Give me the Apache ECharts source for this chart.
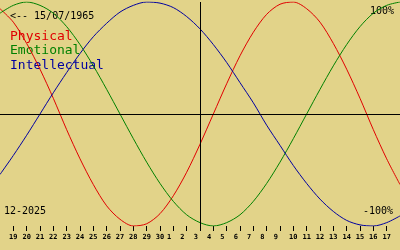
<!DOCTYPE html>
<html>
<head>
<meta charset="utf-8">
<script src="https://cdn.jsdelivr.net/npm/echarts@6/dist/echarts.min.js"></script>
<style>
html,body{margin:0;padding:0;background:#e2d389;}
#c{width:400px;height:250px;}
</style>
</head>
<body>
<div id="c"></div>
<script>
// Days shown: Nov 18 2025 .. Dec 18 2025
var days = ['18','19','20','21','22','23','24','25','26','27','28','29','30',
            '1','2','3','4','5','6','7','8','9','10','11','12','13','14','15','16','17','18'];
var physical = [0.94,0.82,0.63,0.40,0.14,-0.14,-0.40,-0.63,-0.82,-0.94,-1.00,-0.98,-0.89,-0.73,-0.52,-0.27,
                0.00,0.27,0.52,0.73,0.89,0.98,1.00,0.94,0.82,0.63,0.40,0.14,-0.14,-0.40,-0.63];
var emotional = [0.90,0.97,1.00,0.97,0.90,0.78,0.62,0.43,0.22,0.00,-0.22,-0.43,-0.62,-0.78,-0.90,-0.97,
                 -1.00,-0.97,-0.90,-0.78,-0.62,-0.43,-0.22,0.00,0.22,0.43,0.62,0.78,0.90,0.97,1.00];
var intellectual = [-0.54,-0.37,-0.19,0.00,0.19,0.37,0.54,0.69,0.81,0.91,0.97,1.00,0.99,0.95,0.87,0.76,
                    0.62,0.46,0.28,0.10,-0.10,-0.28,-0.46,-0.62,-0.76,-0.87,-0.95,-0.99,-1.00,-0.97,-0.91];
var todayIndex = 15; // Dec 3
var birthText = '<-- 15/07/1965';
var monthText = '12-2025';
var topLabel = '100%';
var bottomLabel = '-100%';
var seriesNames = ['Physical','Emotional','Intellectual'];
var seriesColors = ['#e00000','#008000','#0000a0'];

var chart = echarts.init(document.getElementById('c'));
function shown(idx){ return idx > 0 && idx < days.length - 1; }
var mono = 'DejaVu Sans Mono';
chart.setOption({
  backgroundColor: '#e2d389',
  animation: false,
  grid: {left: 0, right: 0, top: 2, bottom: 24},
  xAxis: {
    type: 'category', data: days, boundaryGap: false,
    axisLine: {show: false, onZero: false},
    axisTick: {show: true, interval: shown, length: 5, lineStyle: {color: '#000', width: 1}},
    axisLabel: {interval: shown, fontSize: 7, fontWeight: 'bold', fontFamily: mono, color: '#000', margin: 8,
                formatter: function(v){ return v.length === 1 ? v + '  ' : v; }},
    splitLine: {show: false}
  },
  yAxis: {type: 'value', min: -1, max: 1, show: false},
  series: [
    {name: seriesNames[0], type: 'line', data: physical, symbol: 'none', smooth: 0.3,
     lineStyle: {color: seriesColors[0], width: 1}, itemStyle: {color: seriesColors[0]},
     markLine: {silent: true, symbol: 'none', label: {show: false}, animation: false,
       lineStyle: {color: '#000', width: 1, type: 'solid'},
       data: [{yAxis: 0}, {xAxis: todayIndex}]}},
    {name: seriesNames[1], type: 'line', data: emotional, symbol: 'none', smooth: 0.3,
     lineStyle: {color: seriesColors[1], width: 1}, itemStyle: {color: seriesColors[1]}},
    {name: seriesNames[2], type: 'line', data: intellectual, symbol: 'none', smooth: 0.3,
     lineStyle: {color: seriesColors[2], width: 1}, itemStyle: {color: seriesColors[2]}}
  ],
  graphic: [
    {type: 'text', left: 10, top: 11, style: {text: birthText, font: '10px "' + mono + '"', fill: '#000'}},
    {type: 'text', left: 10, top: 30, style: {text: seriesNames[0], font: '13px "' + mono + '"', fill: seriesColors[0]}},
    {type: 'text', left: 10, top: 44.5, style: {text: seriesNames[1], font: '13px "' + mono + '"', fill: seriesColors[1]}},
    {type: 'text', left: 10, top: 59, style: {text: seriesNames[2], font: '13px "' + mono + '"', fill: seriesColors[2]}},
    {type: 'text', left: 4, top: 206, style: {text: monthText, font: '10px "' + mono + '"', fill: '#000'}},
    {type: 'text', right: 6, top: 6, style: {text: topLabel, font: '10px "' + mono + '"', fill: '#000'}},
    {type: 'text', right: 7, top: 206, style: {text: bottomLabel, font: '10px "' + mono + '"', fill: '#000'}}
  ]
});
</script>
</body>
</html>
